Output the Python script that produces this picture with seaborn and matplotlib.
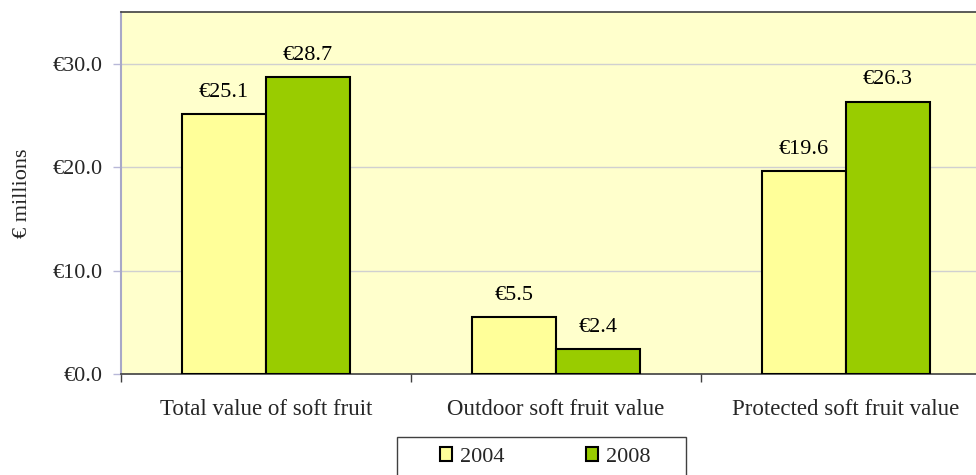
import matplotlib
matplotlib.use("Agg")
import matplotlib.pyplot as plt
import seaborn as sns
import pandas as pd
from matplotlib.ticker import FixedLocator, FuncFormatter
from matplotlib.patches import Patch, Rectangle

categories = ["Total value of soft fruit", "Outdoor soft fruit value", "Protected soft fruit value"]
years = ["2004", "2008"]
values_2004 = [25.1, 5.5, 19.6]
values_2008 = [28.7, 2.4, 26.3]
y_ticks = [0, 10, 20, 30]

df = pd.DataFrame({
    "category": categories * 2,
    "year": [years[0]] * 3 + [years[1]] * 3,
    "value": values_2004 + values_2008,
})

sns.set_theme(style="white")
plt.rcParams["font.family"] = ["Liberation Serif", "DejaVu Serif"]

W, H = 976, 475
fig = plt.figure(figsize=(W / 100, H / 100), dpi=100)
ax = fig.add_axes([121 / W, (H - 374) / H, (991 - 121) / W, (374 - 12) / H])
ax.set_facecolor("#FFFFCC")

palette = {"2004": "#FFFF99", "2008": "#99CC00"}
sns.barplot(data=df, x="category", y="value", hue="year", palette=palette,
            saturation=1, width=0.58, edgecolor="black", linewidth=1.5,
            ax=ax, legend=False, zorder=3)

for cont in ax.containers:
    ax.bar_label(cont, labels=[f"€{v:.1f}" for v in cont.datavalues],
                 padding=9, fontsize=16, color="black")

ax.set_ylim(0, 35)
ax.set_xlim(-0.5, 2.5)
ax.yaxis.set_major_locator(FixedLocator(y_ticks))
ax.yaxis.set_major_formatter(FuncFormatter(lambda v, p: f"€{v:.1f}"))
ax.grid(axis="y", color="#D0D0D0", linewidth=1, zorder=0)
ax.set_axisbelow(True)

ax.tick_params(axis="y", which="major", length=6, width=1, color="#B8B8D8",
               labelsize=16, pad=7, left=True)
ax.tick_params(axis="x", which="major", length=0, labelsize=16.5, pad=18)
ax.xaxis.set_minor_locator(FixedLocator([-0.5, 0.5, 1.5, 2.5]))
ax.tick_params(axis="x", which="minor", length=6, width=1, color="#404040", bottom=True)
ax.set_xlabel("")
ax.set_ylabel("€ millions", fontsize=16, labelpad=15)

for s in ["top", "bottom", "right"]:
    ax.spines[s].set_color("#404040")
    ax.spines[s].set_linewidth(1.2)
ax.spines["left"].set_color("#A8A8C8")
ax.spines["left"].set_linewidth(1.5)

# legend frame
fig.patches.append(Rectangle((397 / W, -0.05), (686 - 397) / W, 0.05 + (H - 437) / H,
                             transform=fig.transFigure, facecolor="white",
                             edgecolor="#404040", linewidth=1.0, zorder=1))
handles = [Patch(facecolor=palette[y], edgecolor="black", linewidth=1.5, label=y) for y in years]
leg = fig.legend(handles=handles, loc="center left", bbox_to_anchor=(440 / W, 1 - 457 / H),
                 ncol=2, frameon=False, fontsize=16,
                 handlelength=0.55, handleheight=0.55, handletextpad=0.36,
                 columnspacing=3.65, borderpad=0, borderaxespad=0)
leg.set_zorder(2)

fig.savefig("out.png", dpi=100)
